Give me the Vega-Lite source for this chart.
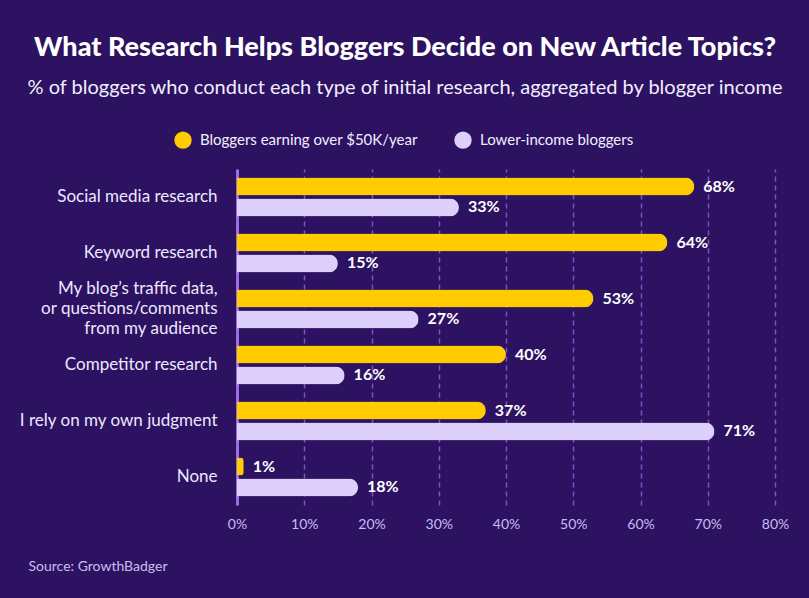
{
  "$schema": "https://vega.github.io/schema/vega-lite/v6.json",
  "autosize": {"type": "none"},
  "width": 538,
  "height": 336,
  "padding": {"left": 237, "top": 169, "right": 34, "bottom": 93},
  "background": "#2c1261",
  "title": {
    "text": "What Research Helps Bloggers Decide on New Article Topics?",
    "subtitle": "% of bloggers who conduct each type of initial research, aggregated by blogger income",
    "anchor": "middle",
    "frame": "group",
    "dx": -101,
    "font": "Lato",
    "fontSize": 27,
    "fontWeight": 900,
    "color": "#ffffff",
    "subtitleFont": "Lato",
    "subtitleFontSize": 20,
    "subtitleColor": "#f2eeff",
    "subtitlePadding": 16,
    "offset": 32
  },
  "data": {
    "values": [
      {"topic": "Social media research", "group": "Bloggers earning over $50K/year", "value": 68},
      {"topic": "Social media research", "group": "Lower-income bloggers", "value": 33},
      {"topic": "Keyword research", "group": "Bloggers earning over $50K/year", "value": 64},
      {"topic": "Keyword research", "group": "Lower-income bloggers", "value": 15},
      {"topic": "My blog’s traffic data,|or questions/comments|from my audience", "group": "Bloggers earning over $50K/year", "value": 53},
      {"topic": "My blog’s traffic data,|or questions/comments|from my audience", "group": "Lower-income bloggers", "value": 27},
      {"topic": "Competitor research", "group": "Bloggers earning over $50K/year", "value": 40},
      {"topic": "Competitor research", "group": "Lower-income bloggers", "value": 16},
      {"topic": "I rely on my own judgment", "group": "Bloggers earning over $50K/year", "value": 37},
      {"topic": "I rely on my own judgment", "group": "Lower-income bloggers", "value": 71},
      {"topic": "None", "group": "Bloggers earning over $50K/year", "value": 1},
      {"topic": "None", "group": "Lower-income bloggers", "value": 18}
    ]
  },
  "encoding": {
    "y": {
      "field": "topic",
      "type": "nominal",
      "sort": null,
      "scale": {"paddingInner": 0, "paddingOuter": 0},
      "axis": {
        "title": null,
        "labelExpr": "split(datum.label, '|')",
        "labelFont": "Lato",
        "labelFontSize": 17,
        "labelColor": "#ede7ff",
        "labelPadding": 20,
        "labelLineHeight": 20,
        "labelLimit": 250,
        "labelOffset": {"condition": {"test": "indexof(datum.label, '|') >= 0", "value": -20}, "value": 0},
        "ticks": false,
        "domain": true,
        "domainColor": "#9a6fe0",
        "domainWidth": 3,
        "grid": false
      }
    },
    "yOffset": {
      "field": "group",
      "type": "nominal",
      "scale": {"paddingInner": 0.143, "paddingOuter": 0.405}
    },
    "x": {
      "field": "value",
      "type": "quantitative",
      "scale": {"domain": [0, 80], "nice": false},
      "axis": {
        "values": [0, 10, 20, 30, 40, 50, 60, 70, 80],
        "labelExpr": "datum.value + '%'",
        "labelFont": "Lato",
        "labelFontSize": 14,
        "labelColor": "#cbbcf0",
        "labelPadding": 12,
        "labelFlush": false,
        "ticks": false,
        "domain": false,
        "grid": true,
        "gridColor": "#7c52c6",
        "gridDash": [5, 4],
        "gridWidth": 1.5,
        "title": "Source: GrowthBadger",
        "titleFont": "Lato",
        "titleFontSize": 14,
        "titleFontWeight": "normal",
        "titleColor": "#cdbdf0",
        "titleAnchor": "start",
        "titleAlign": "left",
        "titleBaseline": "middle",
        "titleX": -209,
        "titleY": 61
      }
    },
    "color": {
      "field": "group",
      "type": "nominal",
      "scale": {"range": ["#ffcc00", "#ddd0fa"]},
      "legend": {
        "title": null,
        "orient": "none",
        "direction": "horizontal",
        "legendX": -63,
        "legendY": -38,
        "symbolType": "circle",
        "symbolSize": 300,
        "symbolStrokeWidth": 0,
        "labelFont": "Lato",
        "labelFontSize": 15,
        "labelColor": "#f2eeff",
        "labelOffset": 8,
        "labelLimit": 400,
        "columnPadding": 36
      }
    }
  },
  "layer": [
    {
      "mark": {"type": "bar", "cornerRadiusEnd": 9, "height": {"band": 1}}
    },
    {
      "mark": {"type": "text", "align": "left", "baseline": "middle", "dx": 9, "font": "Lato", "fontSize": 16, "fontWeight": "bold", "color": "#ffffff", "text": {"expr": "datum.value + '%'"}},
      "encoding": {
        "color": {"value": "#ffffff"}
      }
    }
  ],
  "config": {
    "view": {"stroke": null}
  }
}
